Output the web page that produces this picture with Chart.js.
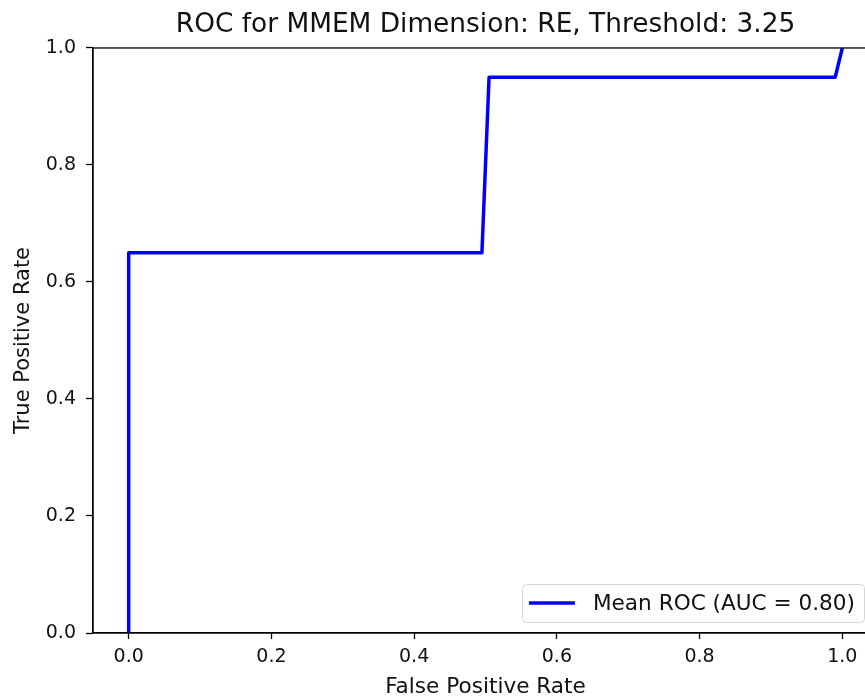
<!DOCTYPE html>
<html>
<head>
<meta charset="utf-8">
<script src="https://cdn.jsdelivr.net/npm/chart.js@4.4.1/dist/chart.umd.min.js"></script>
<style>
  html, body { margin: 0; padding: 0; background: #fff; overflow: hidden; }
  #wrap { width: 900px; height: 698px; }
</style>
</head>
<body>
<div id="wrap"><canvas id="roc" width="900" height="698"></canvas></div>
<script>
// mean ROC curve (interpolated over folds)
const fpr = [0.0, 0.0, 0.495, 0.505, 0.99, 1.0];
const tpr = [0.0, 0.65, 0.65, 0.95, 0.95, 1.0];
const xTicks = [0.0, 0.2, 0.4, 0.6, 0.8, 1.0];
const yTicks = [0.0, 0.2, 0.4, 0.6, 0.8, 1.0];
const curveLabel = 'Mean ROC (AUC = 0.80)';
const chartTitle = 'ROC for MMEM Dimension: RE, Threshold: 3.25';

const FONT = 'DejaVu Sans';
const ink = '#111';

// full frame around the axes + legend in the lower right corner
const frameAndLegend = {
  id: 'frameAndLegend',
  afterDraw(chart) {
    const { ctx, chartArea: a } = chart;
    ctx.save();
    ctx.strokeStyle = '#000';
    ctx.lineWidth = 1.3;
    ctx.strokeRect(a.left, a.top, a.right - a.left, a.bottom - a.top);

    ctx.font = '21.6px "' + FONT + '"';
    const tw = ctx.measureText(curveLabel).width;
    const right = a.right - 14;
    const bottom = a.bottom - 11;
    const top = bottom - 38;
    const textX = right - 9 - tw;
    const lineEnd = textX - 18;
    const lineStart = lineEnd - 46;
    const left = lineStart - 7;

    ctx.beginPath();
    ctx.roundRect(left + 0.5, top + 0.5, right - left, bottom - top, 4);
    ctx.fillStyle = 'rgba(255,255,255,0.8)';
    ctx.fill();
    ctx.strokeStyle = '#d6d6d6';
    ctx.lineWidth = 1;
    ctx.stroke();

    const midY = (top + bottom) / 2;
    ctx.beginPath();
    ctx.moveTo(lineStart, midY);
    ctx.lineTo(lineEnd, midY);
    ctx.strokeStyle = '#0000ff';
    ctx.lineWidth = 3.5;
    ctx.stroke();

    ctx.fillStyle = ink;
    ctx.textBaseline = 'middle';
    ctx.fillText(curveLabel, textX, midY + 1);
    ctx.restore();
  }
};

new Chart(document.getElementById('roc'), {
  type: 'scatter',
  data: {
    datasets: [{
      label: curveLabel,
      data: fpr.map((x, i) => ({ x: x, y: tpr[i] })),
      showLine: true,
      borderColor: '#0000ff',
      borderWidth: 3.5,
      borderJoinStyle: 'round',
      pointRadius: 0,
      fill: false
    }]
  },
  options: {
    responsive: false,
    animation: false,
    layout: { padding: { left: 0, right: 22, top: 0, bottom: 0 } },
    plugins: {
      legend: { display: false },
      tooltip: { enabled: false },
      title: {
        display: true,
        text: chartTitle,
        fullSize: false,
        color: ink,
        font: { family: FONT, size: 26.4, weight: 'normal' },
        padding: { top: 9.2, bottom: 7.1 }
      }
    },
    scales: {
      x: {
        type: 'linear',
        min: -0.05,
        max: 1.05,
        afterBuildTicks: s => { s.ticks = xTicks.map(v => ({ value: v })); },
        afterFit: s => { s.height = 65; },
        ticks: {
          color: ink,
          font: { family: FONT, size: 19 },
          padding: 7,
          maxRotation: 0,
          autoSkip: false,
          callback: v => v.toFixed(1)
        },
        grid: { drawOnChartArea: false, drawTicks: true, tickLength: 6, tickColor: '#000', tickWidth: 1.3 },
        border: { display: true, color: '#000', width: 1.3 },
        title: {
          display: true,
          text: 'False Positive Rate',
          color: ink,
          font: { family: FONT, size: 21.6 },
          padding: { top: 0, bottom: -2.5 }
        }
      },
      y: {
        type: 'linear',
        min: 0,
        max: 1,
        afterBuildTicks: s => { s.ticks = yTicks.map(v => ({ value: v })); },
        afterFit: s => { s.width = 93; },
        ticks: {
          color: ink,
          font: { family: FONT, size: 19 },
          padding: 10,
          callback: v => v.toFixed(1)
        },
        grid: { drawOnChartArea: false, drawTicks: true, tickLength: 7, tickColor: '#000', tickWidth: 1.3 },
        border: { display: true, color: '#000', width: 1.3 },
        title: {
          display: true,
          text: 'True Positive Rate',
          color: ink,
          font: { family: FONT, size: 21 },
          padding: { top: 10.5, bottom: 0 }
        }
      }
    }
  },
  plugins: [frameAndLegend]
});
</script>
</body>
</html>
